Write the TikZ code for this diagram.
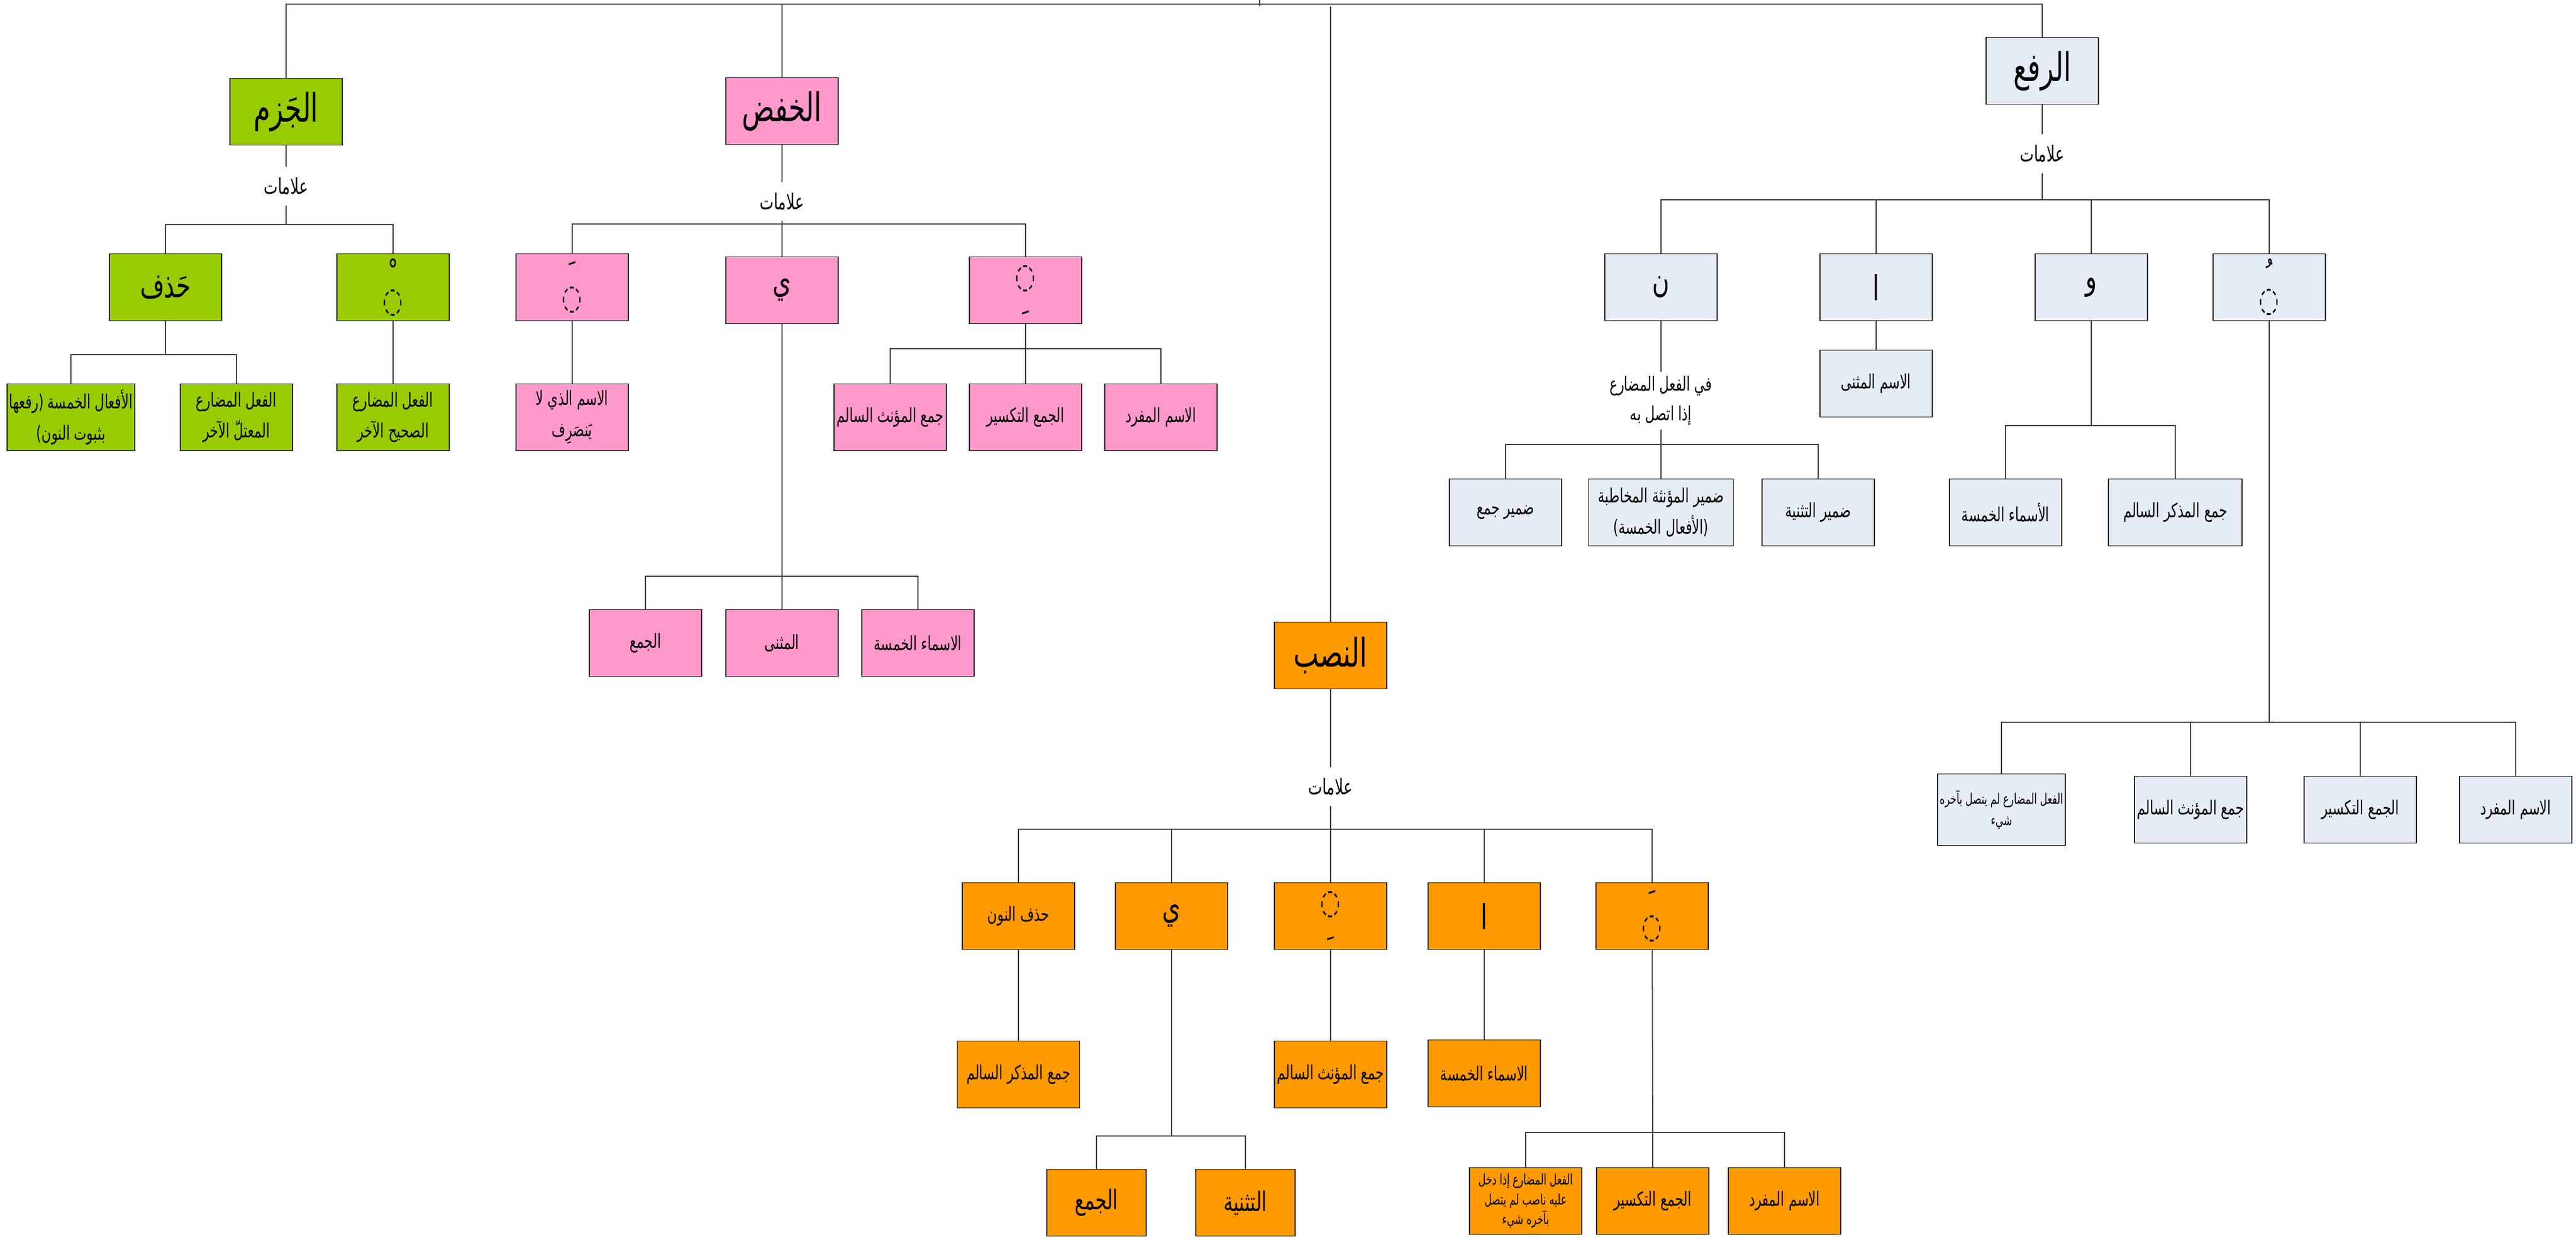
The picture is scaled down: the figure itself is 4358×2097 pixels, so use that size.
\documentclass[tikz,border=0pt]{standalone}
\usepackage{fontspec}
\newfontfamily\arabicfont[Script=Arabic,FakeStretch=0.68]{DejaVu Sans}
\TeXXeTstate=1
\newcommand{\artx}[1]{\beginR#1\endR}
\newcommand{\stacksign}[2]{\artx{#1}\\[-0.55em]\artx{#2}}
\definecolor{jazmgreen}{HTML}{99CC00}
\definecolor{khafdpink}{HTML}{FF99CC}
\definecolor{rafablue}{HTML}{E6ECF6}
\definecolor{nasborange}{HTML}{FF9900}
\tikzset{
    wire/.style={draw=black!75, line width=0.5pt},
    box/.style={draw=black!85, line width=0.5pt, minimum width=1.9cm, minimum height=1.13cm, inner sep=1pt, align=center},
    head/.style={box, font=\arabicfont\fontsize{19}{22}\selectfont},
    signbox/.style={box, font=\arabicfont\fontsize{16.5}{20}\selectfont},
    leaf/.style={box, font=\arabicfont\fontsize{9.4}{15}\selectfont},
    bigleaf/.style={box, font=\arabicfont\fontsize{13}{16}\selectfont},
    small/.style={box, font=\arabicfont\fontsize{7}{10}\selectfont},
    lbl/.style={inner sep=0pt, minimum height=0.64cm, align=center, font=\arabicfont\fontsize{10.5}{14}\selectfont},
    jazm/.style={fill=jazmgreen},
    khafd/.style={fill=khafdpink},
    rafa/.style={fill=rafablue},
    nasb/.style={fill=nasborange}
}
\begin{document}
\begin{tikzpicture}[x=0.01cm,y=-0.01cm]
    \useasboundingbox (0,0) rectangle (4358,2097);
    \coordinate (RootTop) at (2131,0);
    \coordinate (TopBar) at (2131,7);
    \coordinate (NasbTop) at (2251,11);

    \node[head,jazm] (Jazm) at (484,189) {\artx{الجَزم}};
    \node[lbl] (JazmLbl) at (484,315) {\artx{علامات}};
    \coordinate (JazmBar) at (484,380);
    \node[signbox,jazm] (JHadhf) at (280,486) {\artx{حَذف}};
    \node[signbox,jazm] (JSukun) at (665,486) {\stacksign{ﹾ}{◌}};
    \coordinate (JHadhfBar) at (280,600);
    \node[leaf,jazm,minimum width=2.08cm] (JFiveVerbs) at (120,706) {\artx{الأفعال الخمسة (رفعها}\\\artx{بثبوت النون)}};
    \node[leaf,jazm] (JWeakEnd) at (400,706) {\artx{الفعل المضارع}\\\artx{المعتلّ الآخر}};
    \node[leaf,jazm] (JSoundEnd) at (665,706) {\artx{الفعل المضارع}\\\artx{الصحيح الآخر}};

    \node[head,khafd] (Khafd) at (1323,188) {\artx{الخفض}};
    \node[lbl] (KhafdLbl) at (1323,341) {\artx{علامات}};
    \coordinate (KhafdBar) at (1323,379);
    \node[signbox,khafd] (KFatha) at (968,486) {\stacksign{ﹶ}{◌}};
    \node[signbox,khafd] (KYa) at (1323,491) {\artx{ي}};
    \node[signbox,khafd] (KKasra) at (1735,491) {\stacksign{◌}{ﹺ}};
    \node[leaf,khafd] (KNoTanwin) at (968,706) {\artx{الاسم الذي لا}\\\artx{يَنصَرِف}};
    \coordinate (KKasraBar) at (1735,590);
    \node[leaf,khafd] (KFemPl) at (1506,706) {\artx{جمع المؤنث السالم}};
    \node[leaf,khafd] (KBrokenPl) at (1735,706) {\artx{الجمع التكسير}};
    \node[leaf,khafd] (KSingular) at (1964,706) {\artx{الاسم المفرد}};
    \coordinate (KYaBar) at (1323,975);
    \node[leaf,khafd] (KPlural) at (1092,1088) {\artx{الجمع}};
    \node[leaf,khafd] (KDual) at (1323,1088) {\artx{المثنى}};
    \node[leaf,khafd] (KFiveNouns) at (1553,1088) {\artx{الاسماء الخمسة}};

    \node[head,rafa] (Rafa) at (3455,120) {\artx{الرفع}};
    \node[lbl] (RafaLbl) at (3455,260) {\artx{علامات}};
    \coordinate (RafaBar) at (3455,338);
    \node[signbox,rafa] (RNun) at (2810,486) {\artx{ن}};
    \node[signbox,rafa] (RAlif) at (3174,486) {\artx{ا}};
    \node[signbox,rafa] (RWaw) at (3538,486) {\artx{و}};
    \node[signbox,rafa] (RDamma) at (3839,486) {\stacksign{ﹸ}{◌}};
    \node[leaf,rafa] (RDualNoun) at (3174,649) {\artx{الاسم المثنى}};
    \coordinate (RWawBar) at (3538,720);
    \node[leaf,rafa] (RFiveNouns) at (3393,867) {\artx{الأسماء الخمسة}};
    \node[leaf,rafa,minimum width=2.26cm] (RMascPl) at (3680,867) {\artx{جمع المذكر السالم}};
    \node[lbl,minimum height=0.97cm,font=\arabicfont\fontsize{9.4}{14}\selectfont] (RNunLbl) at (2810,678) {\artx{في الفعل المضارع}\\\artx{إذا اتصل به}};
    \coordinate (RNunBar) at (2810,752);
    \node[leaf,rafa] (RPlPron) at (2547,867) {\artx{ضمير جمع}};
    \node[leaf,rafa,minimum width=2.45cm] (RFemPron) at (2810,867) {\artx{ضمير المؤنثة المخاطبة}\\\artx{(الأفعال الخمسة)}};
    \node[leaf,rafa] (RDualPron) at (3076,867) {\artx{ضمير التثنية}};
    \coordinate (RDammaBar) at (3839,1222);
    \node[small,rafa,minimum width=2.1cm,minimum height=1.21cm] (RBareVerb) at (3386,1370) {\artx{الفعل المضارع لم يتصل بآخره}\\\artx{شيء}};
    \node[leaf,rafa] (RFemPl) at (3706,1370) {\artx{جمع المؤنث السالم}};
    \node[leaf,rafa] (RBrokenPl) at (3993,1370) {\artx{الجمع التكسير}};
    \node[leaf,rafa] (RSingular) at (4256,1370) {\artx{الاسم المفرد}};

    \node[head,nasb] (Nasb) at (2251,1109) {\artx{النصب}};
    \node[lbl] (NasbLbl) at (2251,1331) {\artx{علامات}};
    \coordinate (NasbBar) at (2251,1403);
    \node[leaf,nasb] (NHadhf) at (1723,1550) {\artx{حذف النون}};
    \node[signbox,nasb] (NYa) at (1982,1550) {\artx{ي}};
    \node[signbox,nasb] (NKasra) at (2251,1550) {\stacksign{◌}{ﹺ}};
    \node[signbox,nasb] (NAlif) at (2511,1550) {\artx{ا}};
    \node[signbox,nasb] (NFatha) at (2795,1550) {\stacksign{ﹶ}{◌}};
    \node[leaf,nasb,minimum width=2.07cm] (NMascPl) at (1723,1818) {\artx{جمع المذكر السالم}};
    \node[leaf,nasb] (NFemPl) at (2251,1818) {\artx{جمع المؤنث السالم}};
    \node[leaf,nasb] (NFiveNouns) at (2511,1816) {\artx{الاسماء الخمسة}};
    \coordinate (NYaBar) at (1982,1922);
    \node[bigleaf,nasb,minimum width=1.68cm] (NPlural) at (1855,2035) {\artx{الجمع}};
    \node[bigleaf,nasb,minimum width=1.68cm] (NDual) at (2107,2035) {\artx{التثنية}};
    \coordinate (NFathaBar) at (2796,1916);
    \node[small,nasb,font=\arabicfont\fontsize{7}{9.5}\selectfont] (NVerb) at (2581,2032) {\artx{الفعل المضارع إذا دخل}\\\artx{عليه ناصب لم يتصل}\\\artx{بآخره شيء}};
    \node[leaf,nasb] (NBrokenPl) at (2796,2032) {\artx{الجمع التكسير}};
    \node[leaf,nasb] (NSingular) at (3019,2032) {\artx{الاسم المفرد}};

    \draw[wire] (RootTop) -- ++(0,10);
    \draw[wire] (TopBar) -| (Jazm.north);
    \draw[wire] (TopBar) -| (Khafd.north);
    \draw[wire] (TopBar) -| (Rafa.north);
    \draw[wire] (NasbTop) -- (Nasb.north);

    \path[wire] (Jazm) edge (JazmLbl) (JazmLbl) edge (JazmBar);
    \draw[wire] (JazmBar) -| (JHadhf.north);
    \draw[wire] (JazmBar) -| (JSukun.north);
    \path[wire] (JHadhf) edge (JHadhfBar) (JSukun) edge (JSoundEnd);
    \draw[wire] (JHadhfBar) -| (JFiveVerbs.north);
    \draw[wire] (JHadhfBar) -| (JWeakEnd.north);

    \path[wire] (Khafd) edge (KhafdLbl) (KhafdLbl) edge (KhafdBar);
    \draw[wire] (KhafdBar) -| (KFatha.north);
    \draw[wire] (KhafdBar) -- (KYa.north);
    \draw[wire] (KhafdBar) -| (KKasra.north);
    \path[wire] (KFatha) edge (KNoTanwin) (KKasra) edge (KKasraBar) (KYa) edge (KYaBar);
    \draw[wire] (KKasraBar) -| (KFemPl.north);
    \draw[wire] (KKasraBar) -- (KBrokenPl.north);
    \draw[wire] (KKasraBar) -| (KSingular.north);
    \draw[wire] (KYaBar) -| (KPlural.north);
    \draw[wire] (KYaBar) -- (KDual.north);
    \draw[wire] (KYaBar) -| (KFiveNouns.north);

    \path[wire] (Rafa) edge (RafaLbl) (RafaLbl) edge (RafaBar);
    \draw[wire] (RafaBar) -| (RNun.north);
    \draw[wire] (RafaBar) -| (RAlif.north);
    \draw[wire] (RafaBar) -| (RWaw.north);
    \draw[wire] (RafaBar) -| (RDamma.north);
    \path[wire] (RAlif) edge (RDualNoun) (RWaw) edge (RWawBar) (RNun) edge (RNunLbl) (RNunLbl) edge (RNunBar) (RDamma) edge (RDammaBar);
    \draw[wire] (RWawBar) -| (RFiveNouns.north);
    \draw[wire] (RWawBar) -| (RMascPl.north);
    \draw[wire] (RNunBar) -| (RPlPron.north);
    \draw[wire] (RNunBar) -- (RFemPron.north);
    \draw[wire] (RNunBar) -| (RDualPron.north);
    \draw[wire] (RDammaBar) -| (RBareVerb.north);
    \draw[wire] (RDammaBar) -| (RFemPl.north);
    \draw[wire] (RDammaBar) -| (RBrokenPl.north);
    \draw[wire] (RDammaBar) -| (RSingular.north);

    \path[wire] (Nasb) edge (NasbLbl) (NasbLbl) edge (NasbBar);
    \draw[wire] (NasbBar) -| (NHadhf.north);
    \draw[wire] (NasbBar) -| (NYa.north);
    \draw[wire] (NasbBar) -- (NKasra.north);
    \draw[wire] (NasbBar) -| (NAlif.north);
    \draw[wire] (NasbBar) -| (NFatha.north);
    \path[wire] (NHadhf) edge (NMascPl) (NKasra) edge (NFemPl) (NAlif) edge (NFiveNouns) (NYa) edge (NYaBar) (NFatha) edge (NFathaBar);
    \draw[wire] (NYaBar) -| (NPlural.north);
    \draw[wire] (NYaBar) -| (NDual.north);
    \draw[wire] (NFathaBar) -| (NVerb.north);
    \draw[wire] (NFathaBar) -- (NBrokenPl.north);
    \draw[wire] (NFathaBar) -| (NSingular.north);
\end{tikzpicture}
\end{document}
